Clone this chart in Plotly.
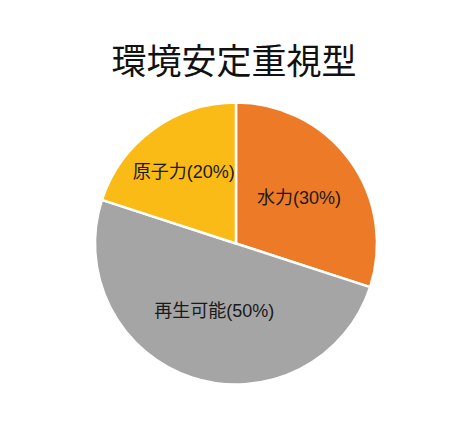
import plotly.graph_objects as go

labels = ["水力", "再生可能", "原子力"]
values = [30, 50, 20]
colors = ["#EC7A26", "#A5A5A5", "#FBBB16"]
title = "環境安定重視型"

W, H = 468, 443
FONT = "Liberation Sans, Noto Sans CJK JP, sans-serif"
fig = go.Figure(go.Pie(
    labels=labels,
    values=values,
    sort=False,
    direction="clockwise",
    rotation=0,
    marker=dict(colors=colors, line=dict(color="white", width=2.5)),
    texttemplate="%{label}(%{percent:.0%})",
    textposition="inside",
    insidetextorientation="horizontal",
    textfont=dict(family=FONT, size=18, color="#1a1a1a"),
    showlegend=False,
    hoverinfo="skip",
    domain=dict(x=[87 / W, 369 / W], y=[1 - 377 / H, 1 - 94 / H]),
))
fig.update_layout(
    width=W, height=H,
    margin=dict(l=0, r=0, t=0, b=0),
    paper_bgcolor="white",
    plot_bgcolor="white",
    title=dict(text=title, x=(234 - 8) / W, xanchor="center", y=1 - 54 / H, yanchor="middle",
               font=dict(family=FONT, size=35, color="#111111")),
    uniformtext=dict(minsize=10, mode=False),
)
fig.write_html("out.html")
